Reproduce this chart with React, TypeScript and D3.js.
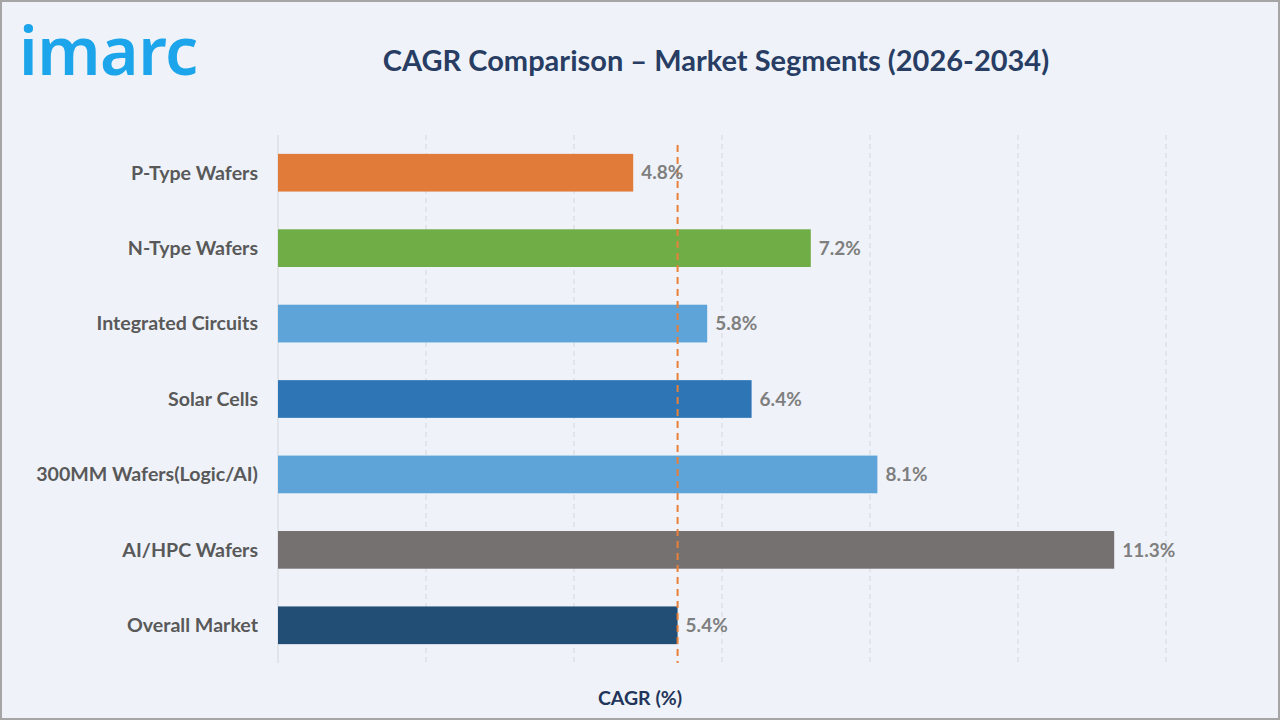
import { useEffect, useRef } from "react";
import * as d3 from "d3";

const segments = [
  "P-Type Wafers",
  "N-Type Wafers",
  "Integrated Circuits",
  "Solar Cells",
  "300MM Wafers(Logic/AI)",
  "AI/HPC Wafers",
  "Overall Market",
];
const cagr = [4.8, 7.2, 5.8, 6.4, 8.1, 11.3, 5.4];
const barColors = [
  "#e07b39",
  "#70ad47",
  "#5ea4d9",
  "#2e75b6",
  "#5ea4d9",
  "#767171",
  "#224e76",
];
const xTicks = [0, 2, 4, 6, 8, 10, 12];
const overallMarket = 5.4;

const W = 1280;
const H = 720;
const FONT = "Lato, 'Open Sans', sans-serif";

export default function App() {
  const svgRef = useRef<SVGSVGElement>(null);

  useEffect(() => {
    if (!svgRef.current) return;
    const svg = d3.select(svgRef.current);
    svg.selectAll("*").remove();

    const margin = { top: 135, right: 114, bottom: 57, left: 278 };

    svg
      .append("rect")
      .attr("x", 1)
      .attr("y", 1)
      .attr("width", W - 2)
      .attr("height", H - 2)
      .attr("fill", "#eff3f9")
      .attr("stroke", "#a6a6a6")
      .attr("stroke-width", 2);

    // logo
    svg
      .append("text")
      .attr("x", 19)
      .attr("y", 75)
      .attr("fill", "#1ca5ea")
      .attr("font-family", "'Noto Sans', sans-serif")
      .attr("font-weight", 600)
      .attr("font-size", 66)
      .attr("letter-spacing", -0.5)
      .text("imarc");

    svg
      .append("text")
      .attr("x", 716)
      .attr("y", 71)
      .attr("text-anchor", "middle")
      .attr("fill", "#283d63")
      .attr("font-family", FONT)
      .attr("font-weight", 700)
      .attr("font-size", 29)
      .text("CAGR Comparison \u2013 Market Segments (2026-2034)");

    const x = d3
      .scaleLinear()
      .domain([0, 12])
      .range([margin.left, W - margin.right]);
    const y = d3
      .scaleBand()
      .domain(segments)
      .range([margin.top, H - margin.bottom])
      .paddingInner(0.5)
      .paddingOuter(0.25);

    const g = svg.append("g");

    xTicks.forEach((t) => {
      g.append("line")
        .attr("x1", x(t))
        .attr("x2", x(t))
        .attr("y1", margin.top)
        .attr("y2", H - margin.bottom)
        .attr("stroke", "#d3d5d9")
        .attr("stroke-width", 1)
        .attr("stroke-dasharray", t === 0 ? null : "5,4");
    });

    g.selectAll(".bar")
      .data(segments)
      .enter()
      .append("rect")
      .attr("x", x(0))
      .attr("y", (d) => y(d)!)
      .attr("width", (d, i) => x(cagr[i]) - x(0))
      .attr("height", y.bandwidth())
      .attr("fill", (d, i) => barColors[i]);

    g.selectAll(".cat")
      .data(segments)
      .enter()
      .append("text")
      .attr("x", margin.left - 20)
      .attr("y", (d) => y(d)! + y.bandwidth() / 2)
      .attr("dy", "0.35em")
      .attr("text-anchor", "end")
      .attr("fill", "#595959")
      .attr("font-family", FONT)
      .attr("font-weight", 700)
      .attr("font-size", 19.6)
      .text((d) => d);

    // reference line: overall market
    g.append("line")
      .attr("x1", x(overallMarket))
      .attr("x2", x(overallMarket))
      .attr("y1", margin.top + 10)
      .attr("y2", H - margin.bottom)
      .attr("stroke", "#e8803a")
      .attr("stroke-width", 2)
      .attr("stroke-dasharray", "7,5");

    g.selectAll(".val")
      .data(segments)
      .enter()
      .append("text")
      .attr("x", (d, i) => x(cagr[i]) + 8)
      .attr("y", (d) => y(d)! + y.bandwidth() / 2)
      .attr("dy", "0.35em")
      .attr("fill", "#7f7f7f")
      .attr("font-family", FONT)
      .attr("font-weight", 700)
      .attr("font-size", 19)
      .text((d, i) => `${cagr[i].toFixed(1)}%`);

    svg
      .append("text")
      .attr("x", 640)
      .attr("y", 705)
      .attr("text-anchor", "middle")
      .attr("fill", "#22345a")
      .attr("font-family", FONT)
      .attr("font-weight", 700)
      .attr("font-size", 19.5)
      .text("CAGR (%)");
  }, []);

  return (
    <div style={{ position: "absolute", left: 0, top: 0, width: W, height: H, overflow: "hidden" }}>
      <svg ref={svgRef} width={W} height={H} style={{ display: "block" }} />
    </div>
  );
}
